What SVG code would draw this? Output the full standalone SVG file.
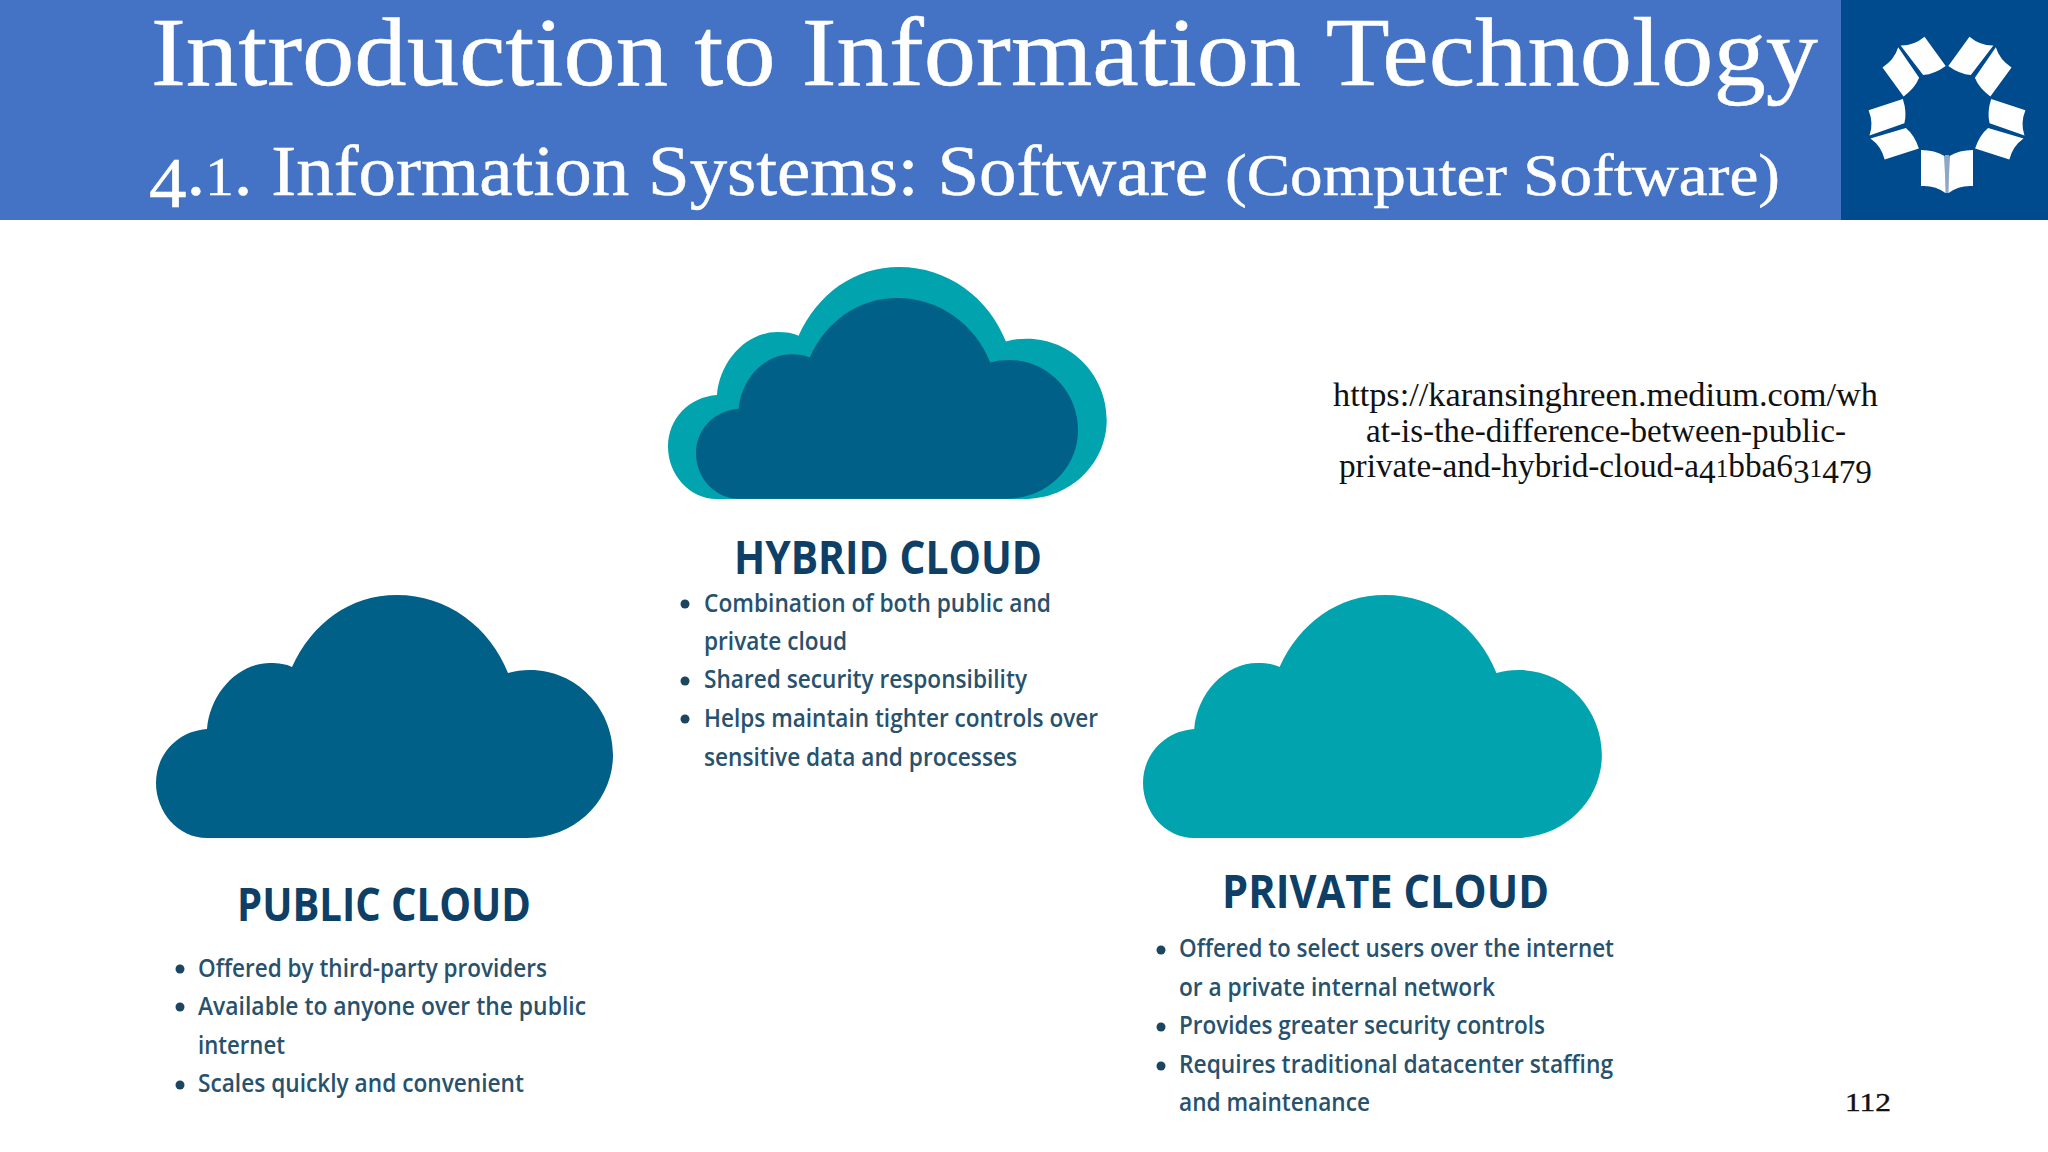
<svg xmlns="http://www.w3.org/2000/svg" width="2048" height="1152" viewBox="0 0 2048 1152">
<style>
.title{font-family:"Liberation Serif",Georgia,serif;fill:#fff;stroke:#fff;stroke-width:.5}
.url{font-family:"Liberation Serif",Georgia,serif;fill:#111;font-size:33px}
.num{font-family:"Liberation Serif",Georgia,serif;fill:#111;font-size:26px;stroke:#111;stroke-width:.4}
.head{font-family:"Open Sans","Noto Sans",sans-serif;font-weight:700;font-size:47px;fill:#0e3f66}
.body{font-family:"Open Sans","Noto Sans",sans-serif;font-weight:600;font-size:25px;fill:#27516d}
.dot{fill:#1c465f}
.blue{fill:#006088}
.teal{fill:#00a3ae}
.page{fill:#fff}
</style>
<defs>
<path id="cloud" d="M207 838C178 838 156 812 156 783C156 754 178 731 207 729C210 693 238 663 270 663C279 663 286 664 292 667C312 623 350 595 397 595C447 595 490 627 508 673C515 671 522 670 530 670C576 670 613 708 613 755C613 800 576 838 527 838Z"/>
<g id="book">
<path class="page" d="M-26 38Q-12 38 -2.500 44L-1.500 81Q-12 73 -26 74Z"/>
<path class="page" d="M26 38Q12 38 2.500 44L1.500 81Q12 73 26 74Z"/>
</g>
</defs>
<rect width="2048" height="1152" fill="#fff"/>
<g id="header">
<rect width="1841" height="220" fill="#4472c4"/>
<rect x="1841" width="207" height="220" fill="#004b8d"/>
<text class="title" x="151" y="85" font-size="98" textLength="1667" lengthAdjust="spacingAndGlyphs">Introduction to Information Technology</text>
<text class="title" x="149" y="195" font-size="71" textLength="1059" lengthAdjust="spacingAndGlyphs"><tspan dy="12">4</tspan><tspan dy="-12">.</tspan><tspan font-size="54">1</tspan>. Information Systems: Software</text>
<text class="title" x="1225" y="195" font-size="60" textLength="555" lengthAdjust="spacingAndGlyphs">(Computer Software)</text>
</g>
<g id="logo" transform="translate(1947 112)">
<rect x="-2" y="43" width="4" height="38" fill="#8fa6c6"/>
<use href="#book"/>
<use href="#book" transform="rotate(72)"/>
<use href="#book" transform="rotate(144)"/>
<use href="#book" transform="rotate(216)"/>
<use href="#book" transform="rotate(288)"/>
</g>
<g id="hybrid-cloud">
<use href="#cloud" class="teal" transform="translate(668 267) scale(.96 .955) translate(-156 -595)"/>
<use href="#cloud" class="blue" transform="translate(696 298) scale(.836 .826) translate(-156 -595)"/>
<text class="head" x="734" y="574" textLength="308" lengthAdjust="spacingAndGlyphs">HYBRID CLOUD</text>
<circle class="dot" cx="685" cy="604" r="4.500"/>
<text class="body" x="704" y="612" textLength="347" lengthAdjust="spacingAndGlyphs">Combination of both public and</text>
<text class="body" x="704" y="650" textLength="143" lengthAdjust="spacingAndGlyphs">private cloud</text>
<circle class="dot" cx="685" cy="681" r="4.500"/>
<text class="body" x="704" y="688" textLength="323" lengthAdjust="spacingAndGlyphs">Shared security responsibility</text>
<circle class="dot" cx="685" cy="719" r="4.500"/>
<text class="body" x="704" y="727" textLength="394" lengthAdjust="spacingAndGlyphs">Helps maintain tighter controls over</text>
<text class="body" x="704" y="766" textLength="313" lengthAdjust="spacingAndGlyphs">sensitive data and processes</text>
</g>
<g id="public-cloud">
<use href="#cloud" class="blue"/>
<text class="head" x="237" y="921" textLength="294" lengthAdjust="spacingAndGlyphs">PUBLIC CLOUD</text>
<circle class="dot" cx="180" cy="969" r="4.500"/>
<text class="body" x="198" y="977" textLength="349" lengthAdjust="spacingAndGlyphs">Offered by third-party providers</text>
<circle class="dot" cx="180" cy="1007" r="4.500"/>
<text class="body" x="198" y="1015" textLength="388" lengthAdjust="spacingAndGlyphs">Available to anyone over the public</text>
<text class="body" x="198" y="1054" textLength="87" lengthAdjust="spacingAndGlyphs">internet</text>
<circle class="dot" cx="180" cy="1085" r="4.500"/>
<text class="body" x="198" y="1092" textLength="326" lengthAdjust="spacingAndGlyphs">Scales quickly and convenient</text>
</g>
<g id="private-cloud">
<use href="#cloud" class="teal" transform="translate(987 0) scale(1.004 1) translate(-.6 0)"/>
<text class="head" x="1222" y="908" textLength="327" lengthAdjust="spacingAndGlyphs">PRIVATE CLOUD</text>
<circle class="dot" cx="1161" cy="950" r="4.500"/>
<text class="body" x="1179" y="957" textLength="435" lengthAdjust="spacingAndGlyphs">Offered to select users over the internet</text>
<text class="body" x="1179" y="996" textLength="316" lengthAdjust="spacingAndGlyphs">or a private internal network</text>
<circle class="dot" cx="1161" cy="1027" r="4.500"/>
<text class="body" x="1179" y="1034" textLength="366" lengthAdjust="spacingAndGlyphs">Provides greater security controls</text>
<circle class="dot" cx="1161" cy="1066" r="4.500"/>
<text class="body" x="1179" y="1073" textLength="434" lengthAdjust="spacingAndGlyphs">Requires traditional datacenter staffing</text>
<text class="body" x="1179" y="1111" textLength="191" lengthAdjust="spacingAndGlyphs">and maintenance</text>
</g>
<g id="source">
<text class="url" x="1333" y="406" textLength="545" lengthAdjust="spacingAndGlyphs">https://karansinghreen.medium.com/wh</text>
<text class="url" x="1366" y="442" textLength="480" lengthAdjust="spacingAndGlyphs">at-is-the-difference-between-public-</text>
<text class="url" x="1339" y="477" textLength="533" lengthAdjust="spacingAndGlyphs">private-and-hybrid-cloud-a<tspan dy="6">4</tspan><tspan dy="-6" font-size="25">1</tspan>bba<tspan>6</tspan><tspan dy="6">3</tspan><tspan dy="-6" font-size="25">1</tspan><tspan dy="6">479</tspan></text>
</g>
<text id="page-number" class="num" x="1845" y="1111" textLength="46" lengthAdjust="spacingAndGlyphs">112</text>
</svg>
